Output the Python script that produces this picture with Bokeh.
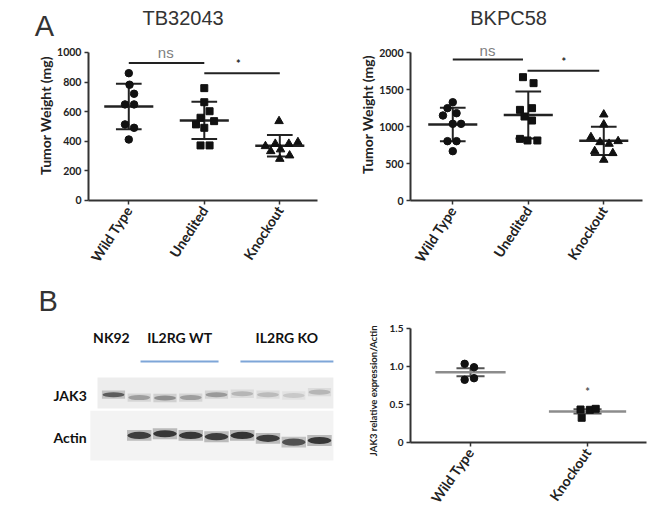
import numpy as np
from bokeh.plotting import figure
from bokeh.layouts import column, row
from bokeh.models import Range1d, FixedTicker
from bokeh.core.properties import value
from bokeh.embed import file_html
from bokeh.resources import INLINE

# ---------------- Panel A data ----------------
categories = ["Wild Type", "Unedited", "Knockout"]

tb_wild = [860, 782, 721, 649, 649, 514, 491, 412]
tb_wild_jit = [0.0, 0.01, 0.07, -0.05, 0.07, -0.05, 0.07, 0.0]
tb_unedited = [759, 664, 603, 559, 536, 514, 491, 372, 372]
tb_unedited_jit = [0.0, 0.0, 0.07, -0.05, 0.13, -0.11, 0.0, -0.05, 0.07]
tb_knockout = [536, 367, 383, 383, 394, 333, 345, 304, 281]
tb_knockout_jit = [-0.01, -0.19, -0.06, 0.12, 0.24, -0.12, 0.01, 0.13, 0.0]
tb_ticks = [0, 200, 400, 600, 800, 1000]

bk_wild = [1328, 1248, 1180, 1149, 1036, 1036, 802, 802, 667]
bk_wild_jit = [0.0, -0.07, 0.05, -0.13, 0.0, 0.11, -0.07, 0.05, 0.0]
bk_unedited = [1667, 1586, 1225, 1248, 1135, 1081, 833, 811, 811]
bk_unedited_jit = [-0.07, 0.07, -0.11, 0.05, -0.05, 0.05, -0.11, -0.01, 0.12]
bk_knockout = [1162, 1027, 856, 788, 766, 802, 667, 640, 550]
bk_knockout_jit = [0.0, 0.0, -0.17, -0.05, 0.07, 0.19, -0.12, 0.12, 0.0]
bk_ticks = [0, 500, 1000, 1500, 2000]

# ---------------- Panel B data ----------------
blot_lanes = [1, 2, 3, 4, 5, 6, 7, 8, 9]
lane_groups = ["NK92", "IL2RG WT", "IL2RG KO"]
jak3_band_intensity = [0.70, 0.38, 0.45, 0.38, 0.40, 0.26, 0.24, 0.17, 0.26]
jak3_band_row = [1.02, 0.95, 0.94, 0.95, 1.02, 1.04, 1.02, 1.00, 1.08]
actin_band_intensity = [0.0, 0.85, 0.88, 0.88, 0.85, 0.90, 0.85, 0.75, 0.88]
actin_band_row = [0.05, 0.05, 0.09, 0.05, 0.02, 0.05, -0.02, -0.11, -0.07]

jak3_categories = ["Wild Type", "Knockout"]
jak3_wild = [1.035, 0.99, 0.825, 0.846]
jak3_wild_jit = [-0.05, 0.03, -0.05, 0.03]
jak3_knockout = [0.434, 0.43, 0.443, 0.325]
jak3_knockout_jit = [-0.06, 0.02, 0.07, -0.05]
jak3_ticks = [0, 0.5, 1.0, 1.5]

DARK = "#222222"
LABEL_FONT = value("Lato")
TITLE_FONT = value("Liberation Sans")


def base_fig(w, h, xr, yr):
    p = figure(width=w, height=h, x_range=Range1d(*xr), y_range=Range1d(*yr),
               output_backend="svg", toolbar_location=None, min_border=0,
               outline_line_color=None, background_fill_color="white",
               border_fill_color="white")
    p.xgrid.visible = False
    p.ygrid.visible = False
    return p


def style_axes(p, y_at, ybounds, yticks, xbounds, xticks, xlabels, tick_size,
               xlab_size, angle, y_overrides=None):
    ya = p.yaxis[0]
    xa = p.xaxis[0]
    ya.fixed_location = y_at
    ya.bounds = ybounds
    ya.ticker = FixedTicker(ticks=yticks)
    if y_overrides:
        ya.major_label_overrides = y_overrides
    xa.fixed_location = 0
    xa.bounds = xbounds
    xa.ticker = FixedTicker(ticks=xticks)
    xa.major_label_overrides = {t: l for t, l in zip(xticks, xlabels)}
    xa.major_label_orientation = np.deg2rad(angle)
    for ax in (xa, ya):
        ax.axis_line_color = "#333333"
        ax.axis_line_width = 2
        ax.major_tick_line_color = "#333333"
        ax.major_tick_line_width = 1.5
        ax.major_tick_in = 0
        ax.major_tick_out = 4
        ax.minor_tick_line_color = None
        ax.major_label_text_font = "Lato"
        ax.major_label_text_font_style = "bold"
        ax.major_label_text_color = DARK
    ya.major_label_text_font_size = tick_size
    ya.major_label_standoff = 3
    xa.major_label_text_font_size = xlab_size
    xa.major_label_standoff = 3


def group(p, xc, vals, jit, marker, size, spread="sd", mean_half=0.325,
          cap_half=0.17, mean_color=DARK, cap_color=DARK, lw=2):
    v = np.asarray(vals, dtype=float)
    m = v.mean()
    s = v.std(ddof=1)
    if spread == "sem":
        s = s / np.sqrt(len(v))
    p.segment(x0=[xc, xc - cap_half, xc - cap_half], x1=[xc, xc + cap_half, xc + cap_half],
              y0=[m - s, m + s, m - s], y1=[m + s, m + s, m - s],
              line_color=cap_color, line_width=lw)
    p.segment(x0=[xc - mean_half], x1=[xc + mean_half], y0=[m], y1=[m],
              line_color=mean_color, line_width=lw + 0.5)
    p.scatter(x=xc + np.asarray(jit), y=v, marker=marker, size=size,
              fill_color="#111111", line_color="#111111")


# ---------------- Panel A : TB32043 ----------------
pA1 = base_fig(328, 270, (-0.699, 3.645), (-473, 1351))
style_axes(pA1, 0.466, (0, 1000), tb_ticks, (0.466, 3.499), [1, 2, 3], categories,
           "10.5px", "14px", 57)
group(pA1, 1, tb_wild, tb_wild_jit, "circle", 7.5)
group(pA1, 2, tb_unedited, tb_unedited_jit, "square", 7)
group(pA1, 3, tb_knockout, tb_knockout_jit, "triangle", 8.5)
pA1.segment(x0=[1, 2], x1=[2, 3], y0=[928, 860], y1=[928, 860], line_color=DARK, line_width=2)
pA1.text(x=[1.49], y=[1000], text=["ns"], text_font=value("Liberation Sans"), text_font_size="15px",
         text_color="#808080", text_align="center", text_baseline="middle")
pA1.text(x=[2.45], y=[925], text=["*"], text_font=LABEL_FONT, text_font_size="11px",
         text_font_style="bold", text_color=DARK, text_align="center", text_baseline="middle")
pA1.text(x=[1.72], y=[1236], text=["TB32043"], text_font=TITLE_FONT, text_font_size="20px",
         text_color="#333333", text_align="center", text_baseline="middle")
pA1.text(x=[-0.117], y=[1176], text=["A"], text_font=TITLE_FONT, text_font_size="29px",
         text_color="#333333", text_align="center", text_baseline="middle")
pA1.text(x=[-0.103], y=[574], text=["Tumor Weight (mg)"], text_font=LABEL_FONT, text_font_size="14px",
         text_font_style="bold", text_color=DARK, text_align="center", text_baseline="middle",
         angle=np.pi / 2)

# ---------------- Panel A : BKPC58 ----------------
pA2 = base_fig(322, 270, (-0.646, 3.619), (-946, 2703))
style_axes(pA2, 0.44, (0, 2000), bk_ticks, (0.44, 3.51), [1, 2, 3], categories,
           "10.5px", "14px", 57)
group(pA2, 1, bk_wild, bk_wild_jit, "circle", 7.5)
group(pA2, 2, bk_unedited, bk_unedited_jit, "square", 7)
group(pA2, 3, bk_knockout, bk_knockout_jit, "triangle", 8.5)
pA2.segment(x0=[1.0, 1.99], x1=[1.93, 2.94], y0=[1905, 1752], y1=[1905, 1752],
            line_color=DARK, line_width=2)
pA2.text(x=[1.46], y=[2027], text=["ns"], text_font=value("Liberation Sans"), text_font_size="15px",
         text_color="#808080", text_align="center", text_baseline="middle")
pA2.text(x=[2.47], y=[1880], text=["*"], text_font=LABEL_FONT, text_font_size="11px",
         text_font_style="bold", text_color=DARK, text_align="center", text_baseline="middle")
pA2.text(x=[1.74], y=[2472], text=["BKPC58"], text_font=TITLE_FONT, text_font_size="20px",
         text_color="#333333", text_align="center", text_baseline="middle")
pA2.text(x=[-0.134], y=[1162], text=["Tumor Weight (mg)"], text_font=LABEL_FONT, text_font_size="14px",
         text_font_style="bold", text_color=DARK, text_align="center", text_baseline="middle",
         angle=np.pi / 2)

# ---------------- Panel B : western blot ----------------
pB1 = base_fig(338, 254, (-3.388, 9.738), (-2.071, 3.976))
pB1.xaxis.visible = False
pB1.yaxis.visible = False
lanes = np.asarray(blot_lanes, dtype=float)
pB1.quad(left=[lanes[0] - 0.62], right=[lanes[-1] + 0.54], bottom=[0.69], top=[1.43],
         fill_color="#ededed", line_color=None)
pB1.quad(left=[lanes[0] - 0.9], right=[lanes[-1] + 0.54], bottom=[-0.55], top=[0.64],
         fill_color="#f3f3f3", line_color=None)


def gray(i):
    g = int(round(236 * (1 - i) + 30 * i))
    return "#%02x%02x%02x" % (g, g, g)


jk_cols = [gray(i) for i in jak3_band_intensity]
ac_cols = [gray(i) for i in actin_band_intensity]
ac_alpha = [0.0 if i == 0 else 1.0 for i in actin_band_intensity]
pB1.rect(x=lanes, y=jak3_band_row, width=0.9, height=0.2, fill_color=jk_cols,
         fill_alpha=0.3, line_color=None)
pB1.ellipse(x=lanes, y=jak3_band_row, width=0.85, height=0.12, fill_color=jk_cols,
            line_color=None)
pB1.rect(x=lanes, y=actin_band_row, width=0.95, height=0.26, fill_color=ac_cols,
         fill_alpha=[a * 0.3 for a in ac_alpha], line_color=None)
pB1.ellipse(x=lanes, y=actin_band_row, width=0.92, height=0.17, fill_color=ac_cols,
            fill_alpha=ac_alpha, line_color=None)
pB1.segment(x0=[2.05, 5.93], x1=[5.08, 9.54], y0=[1.81, 1.81], y1=[1.81, 1.81],
            line_color="#7ea6d8", line_width=2)
pB1.text(x=[0.92, 3.57, 7.73], y=[2.38, 2.38, 2.38], text=lane_groups, text_font=LABEL_FONT,
         text_font_size="14px", text_font_style="bold", text_color="#111111",
         text_align="center", text_baseline="middle")
pB1.text(x=[-1.33, -1.33], y=[1.0, 0.0], text=["JAK3", "Actin"], text_font=LABEL_FONT,
         text_font_size="14px", text_font_style="bold", text_color="#111111",
         text_align="left", text_baseline="middle")
pB1.text(x=[-1.539], y=[3.26], text=["B"], text_font=TITLE_FONT, text_font_size="29px",
         text_color="#333333", text_align="center", text_baseline="middle")

# ---------------- Panel B : JAK3 quantification ----------------
pB2 = base_fig(312, 254, (-0.128, 2.538), (-1.079, 2.263))
style_axes(pB2, 0.487, (0, 1.5), jak3_ticks, (0.487, 2.5), [1, 2], jak3_categories,
           "10px", "14px", 55, y_overrides={0: "0", 0.5: "0.5", 1: "1.0", 1.5: "1.5"})
group(pB2, 1, jak3_wild, jak3_wild_jit, "circle", 7.5, spread="sem", mean_half=0.3,
      cap_half=0.12, mean_color="#8c8c8c", cap_color="#555555", lw=2)
group(pB2, 2, jak3_knockout, jak3_knockout_jit, "square", 7, spread="sem", mean_half=0.33,
      cap_half=0.12, mean_color="#8c8c8c", cap_color="#555555", lw=2)
pB2.text(x=[2.0], y=[0.67], text=["*"], text_font=LABEL_FONT, text_font_size="11px",
         text_font_style="bold", text_color="#555555", text_align="center", text_baseline="middle")
pB2.text(x=[0.171], y=[0.68], text=["JAK3 relative expression/Actin"], text_font=LABEL_FONT,
         text_font_size="9.5px", text_font_style="bold", text_color=DARK, text_align="center",
         text_baseline="middle", angle=np.pi / 2)

layout = column(row(pA1, pA2), row(pB1, pB2))
open("out.html", "w").write(file_html(layout, INLINE))
